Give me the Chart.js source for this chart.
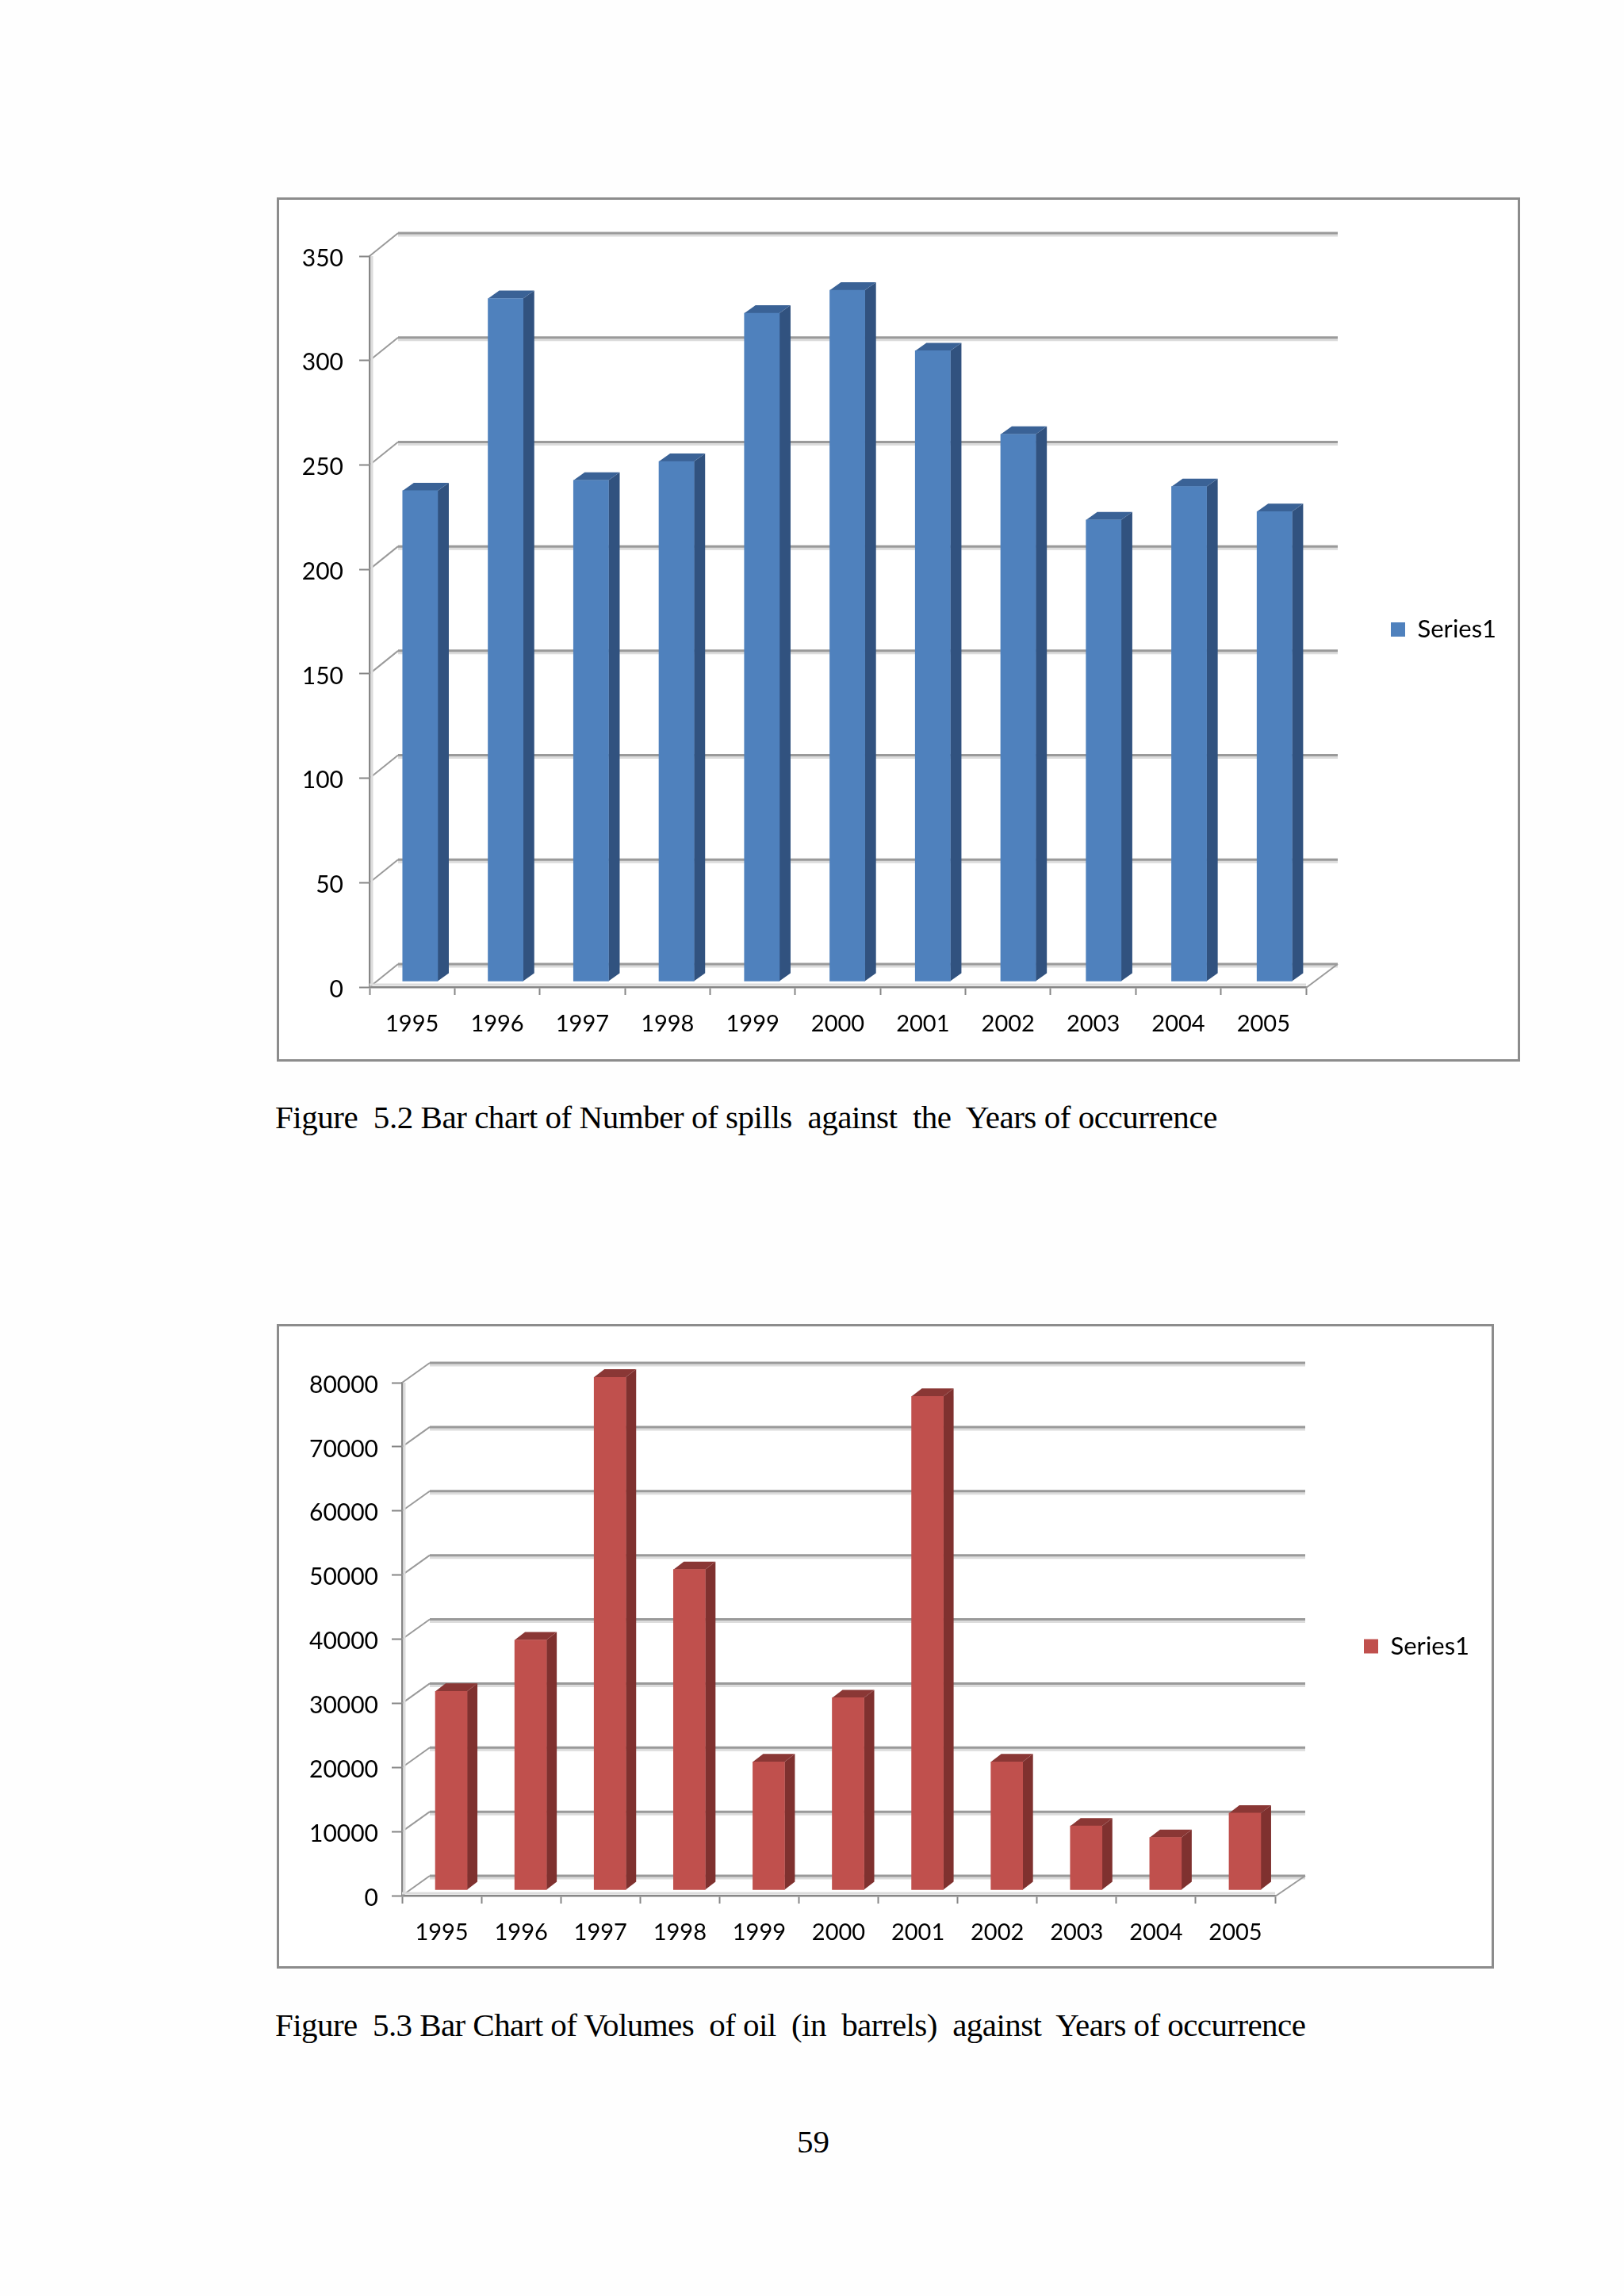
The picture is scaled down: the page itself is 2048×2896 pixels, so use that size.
<!DOCTYPE html>
<html>
<head>
<meta charset="utf-8">
<title>Figures 5.2 and 5.3</title>
<script src="https://cdn.jsdelivr.net/npm/chart.js@4"></script>
<style>
    html, body { margin: 0; padding: 0; background: #fefefe; }
    body { position: relative; width: 2048px; height: 2896px; overflow: hidden; }
    canvas { position: absolute; outline: 3px solid #8c8c8c; outline-offset: -3px; background: #fff; }
    .caption { position: absolute; font-family: "Liberation Serif", serif; color: #000; white-space: pre; line-height: 1; }
</style>
</head>
<body>
<canvas id="spillsChart" width="1568" height="1090" style="left:349px; top:249px;"></canvas>
<div class="caption" style="left:347px; top:1389px; font-size:41px; letter-spacing:-0.46px;">Figure  5.2 Bar chart of Number of spills  against  the  Years of occurrence</div>
<canvas id="volumeChart" width="1535" height="813" style="left:349px; top:1670px;"></canvas>
<div class="caption" style="left:347px; top:2534px; font-size:41px; letter-spacing:-0.57px;">Figure  5.3 Bar Chart of Volumes  of oil  (in  barrels)  against  Years of occurrence</div>
<div class="caption" style="left:1005px; top:2681px; font-size:41px;">59</div>

<script>
// chart data
const years = ["1995", "1996", "1997", "1998", "1999", "2000", "2001", "2002", "2003", "2004", "2005"];
const spillCounts = [235, 327, 240, 249, 320, 331, 302, 262, 221, 237, 225];
const oilVolumes = [31000, 39000, 80000, 50000, 20000, 30000, 77000, 20000, 10000, 8200, 12000];
const seriesName = "Series1";

const FONT = "Lato";
const AXIS_GREY = "#868686";
const FRINGE_GREY = "#dcdcdc";

// fake 3D: back wall lines, floor and the bar sides are added around the normal bar chart
function box3d(o) {
    const wall = (ctx, area, y, isFloor) => {
        ctx.lineCap = "butt";
        [[FRINGE_GREY, 5, 2], [o.wallLine, 3, 0]].forEach(([color, width, shift]) => {
            ctx.strokeStyle = color;
            ctx.lineWidth = width;
            ctx.beginPath();
            ctx.moveTo(area.left + o.wallDx, y - o.wallDy + shift);
            ctx.lineTo(area.right + o.wallDx + o.wallExtra, y - o.wallDy + shift);
            ctx.stroke();
        });
        ctx.strokeStyle = "#9a9a9a";
        ctx.lineWidth = 2;
        ctx.beginPath();
        ctx.moveTo(area.left, y);
        ctx.lineTo(area.left + o.wallDx, y - o.wallDy);
        if (isFloor) {
            ctx.moveTo(area.right, y + 1);
            ctx.lineTo(area.right + o.wallDx + o.wallExtra, y - o.wallDy);
        }
        ctx.stroke();
    };

    return {
        id: "box3d",
        afterLayout(chart) {
            // legend sits right of the plot, in the middle of the frame
            const legend = chart.legend;
            const h = legend.height;
            legend.left = o.legendX - 10;
            legend.right = legend.left + legend.width;
            legend.top = chart.height / 2 - h / 2;
            legend.bottom = legend.top + h;
        },
        beforeDatasetsDraw(chart) {
            const { ctx, chartArea, scales } = chart;
            ctx.save();
            scales.y.ticks.forEach((t, i) => {
                wall(ctx, chartArea, scales.y.getPixelForTick(i), t.value === 0);
            });
            // fringe next to the front axes
            ctx.strokeStyle = FRINGE_GREY;
            ctx.lineWidth = 3;
            ctx.beginPath();
            ctx.moveTo(chartArea.left + 3, chartArea.top);
            ctx.lineTo(chartArea.left + 3, chartArea.bottom - 3);
            ctx.moveTo(chartArea.left, chartArea.bottom - 3);
            ctx.lineTo(chartArea.right, chartArea.bottom - 3);
            ctx.stroke();
            ctx.restore();

            // bars stand in the middle of the floor, spread a little by the perspective
            ctx.save();
            ctx.translate(chartArea.left + o.barDx, -o.barDy);
            ctx.scale(o.barSpread, 1);
            ctx.translate(-chartArea.left, 0);
            const depth = o.depth, rise = o.rise;
            chart.getDatasetMeta(0).data.forEach(bar => {
                const { x, y, base, width } = bar.getProps(["x", "y", "base", "width"], true);
                const r = x + width / 2, l = x - width / 2;
                ctx.fillStyle = o.sideColor;
                ctx.beginPath();
                ctx.moveTo(r, y);
                ctx.lineTo(r + depth, y - rise);
                ctx.lineTo(r + depth, base - rise);
                ctx.lineTo(r, base);
                ctx.closePath();
                ctx.fill();
                ctx.fillStyle = o.topColor;
                ctx.beginPath();
                ctx.moveTo(l, y);
                ctx.lineTo(l + depth, y - rise);
                ctx.lineTo(r + depth, y - rise);
                ctx.lineTo(r, y);
                ctx.closePath();
                ctx.fill();
            });
        },
        afterDatasetsDraw(chart) {
            chart.ctx.restore();
        }
    };
}

function makeChart(canvasId, values, o) {
    return new Chart(document.getElementById(canvasId), {
        type: "bar",
        data: {
            labels: years,
            datasets: [{
                label: seriesName,
                data: values,
                backgroundColor: o.faceColor,
                borderWidth: 0,
                barThickness: o.barWidth
            }]
        },
        options: {
            responsive: false,
            animation: false,
            devicePixelRatio: 1,
            layout: { padding: { top: o.padTop, right: o.padRight, left: 0, bottom: 0 } },
            plugins: {
                tooltip: { enabled: false },
                legend: {
                    position: "chartArea",
                    labels: {
                        boxWidth: 18,
                        boxHeight: 18,
                        padding: 10,
                        color: "#000",
                        font: { family: FONT, size: 31 }
                    }
                }
            },
            scales: {
                x: {
                    afterFit(scale) { scale.height = o.xHeight; },
                    border: { color: AXIS_GREY, width: 2.5 },
                    grid: { drawOnChartArea: false, color: AXIS_GREY, tickLength: 10, tickWidth: 2 },
                    ticks: { color: "#000", padding: 19, maxRotation: 0, autoSkip: false, font: { family: FONT, size: 29 } }
                },
                y: {
                    min: 0,
                    max: o.yMax,
                    afterFit(scale) { scale.width = o.yWidth; },
                    border: { color: AXIS_GREY, width: 2.5 },
                    grid: { drawOnChartArea: false, color: AXIS_GREY, tickLength: 13, tickWidth: 2 },
                    ticks: {
                        stepSize: o.yStep,
                        color: "#000",
                        padding: o.yLabelGap,
                        labelOffset: 3,
                        font: { family: FONT, size: 30 },
                        callback: value => String(value)
                    }
                }
            }
        },
        plugins: [box3d(o)]
    });
}

makeChart("spillsChart", spillCounts, {
    yMax: 350, yStep: 50, yLabelGap: 20,
    padTop: 74, padRight: 270, xHeight: 94, yWidth: 117,
    wallDx: 36, wallDy: 29, wallExtra: 4,
    barWidth: 44, barDx: 10, barDy: 7, barSpread: 1.0035, depth: 14, rise: 10,
    faceColor: "#4f81bd", sideColor: "#31527f", topColor: "#3a6296", wallLine: "#9a9a9a",
    legendX: 1405
});

makeChart("volumeChart", oilVolumes, {
    yMax: 80000, yStep: 10000, yLabelGap: 17,
    padTop: 74, padRight: 276, xHeight: 92, yWidth: 158,
    wallDx: 35, wallDy: 25, wallExtra: 3,
    barWidth: 40, barDx: 12, barDy: 7, barSpread: 1, depth: 13, rise: 10,
    faceColor: "#c0504d", sideColor: "#7f312f", topColor: "#8a3735", wallLine: "#9a9a9a",
    legendX: 1371
});
</script>
</body>
</html>
